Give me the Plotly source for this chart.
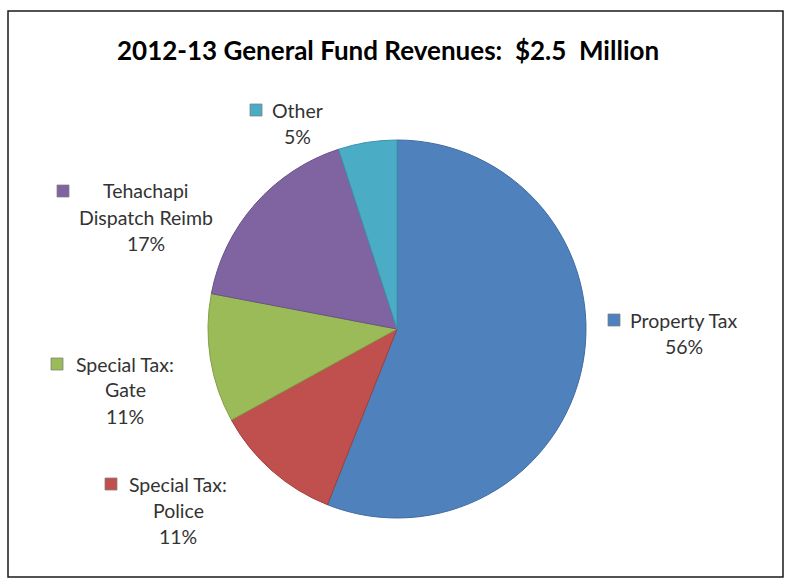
import plotly.graph_objects as go

# Revenue sources and their share of the general fund (%)
categories = ["Property Tax", "Special Tax: Police", "Special Tax: Gate",
              "Tehachapi Dispatch Reimb", "Other"]
shares = [56, 11, 11, 17, 5]
colors = ["#4F81BD", "#C0504D", "#9BBB59", "#8064A2", "#4BACC6"]
edge_colors = ["#3F6C9F", "#A03F3C", "#80A046", "#6A5288", "#3A94AC"]

# Label lines per category (first line carries the colour key)
label_lines = [
    ["Property Tax"],
    ["Special Tax:", "Police"],
    ["Special Tax:", "Gate"],
    ["Tehachapi", "Dispatch Reimb"],
    ["Other"],
]

W, H = 785, 582
FONT = "Lato"

# Label block layout in pixels: (centre x, first line y, key x)
label_pos = [
    (684, 320, 614),
    (178, 484, 111),
    (125, 364, 57),
    (146, 191, 63),
    (297, 110, 256),
]
LINE = 26


def px(x):
    return x / W


def py(y):
    return 1 - y / H


fig = go.Figure()
fig.add_trace(go.Pie(
    labels=categories,
    values=shares,
    sort=False,
    direction="clockwise",
    rotation=0,
    marker=dict(colors=colors, line=dict(color=edge_colors, width=1)),
    textinfo="none",
    hoverinfo="label+percent",
    showlegend=False,
    domain=dict(x=[px(208), px(586)], y=[py(518), py(140)]),
))

annotations = []
shapes = []
for lines, val, col, (cx, y0, kx) in zip(label_lines, shares, colors, label_pos):
    all_lines = lines + [f"{val}%"]
    for i, t in enumerate(all_lines):
        annotations.append(dict(
            x=px(cx), y=py(y0 + i * LINE), xref="paper", yref="paper",
            text=t, showarrow=False, xanchor="center", yanchor="middle",
            font=dict(family=FONT, size=19.5, color="#333333"),
        ))
    shapes.append(dict(
        type="rect", xref="paper", yref="paper",
        x0=px(kx - 6), x1=px(kx + 6), y0=py(y0 - 6), y1=py(y0 + 6),
        fillcolor=col, line=dict(color="#7F7F7F", width=0.75),
    ))

# Chart area frame
shapes.append(dict(
    type="rect", xref="paper", yref="paper",
    x0=px(8), x1=px(783), y0=py(577), y1=py(11),
    line=dict(color="#1A1A1A", width=1.5), fillcolor="rgba(0,0,0,0)",
))

annotations.append(dict(
    x=px(388), y=py(50), xref="paper", yref="paper",
    text="<b>2012-13 General Fund Revenues:  $2.5  Million</b>",
    showarrow=False, xanchor="center", yanchor="middle",
    font=dict(family=FONT, size=26, color="#000000"),
))

fig.update_layout(
    width=W, height=H,
    margin=dict(l=0, r=0, t=0, b=0),
    paper_bgcolor="white",
    plot_bgcolor="white",
    annotations=annotations,
    shapes=shapes,
)

fig.write_html("out.html")
